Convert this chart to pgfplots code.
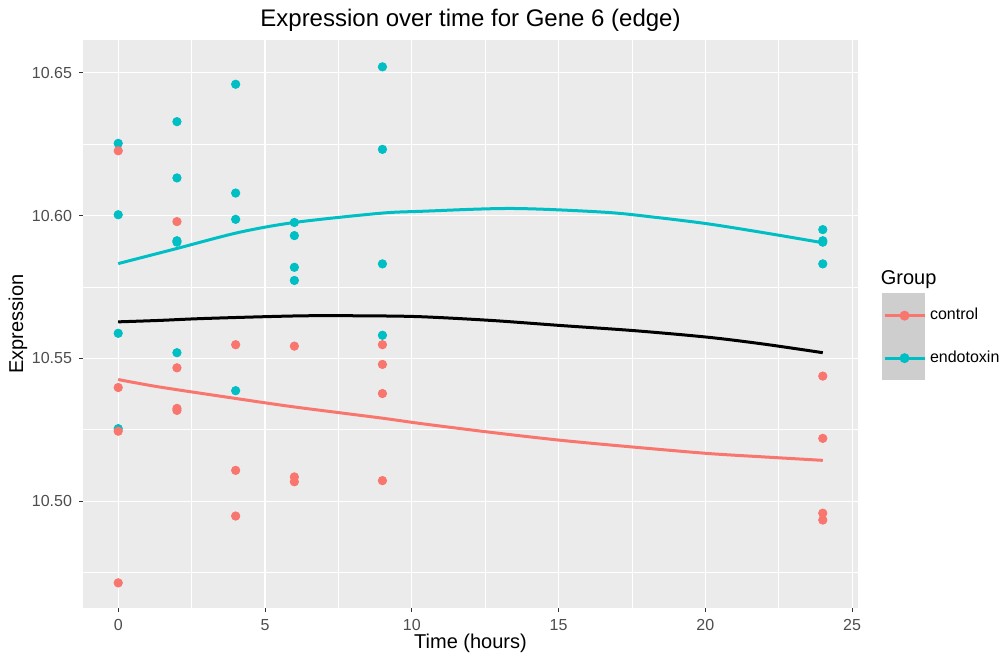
\documentclass[border=0pt]{standalone}
\usepackage{pgfplots}
\pgfplotsset{compat=1.18}
\usepackage{fontspec}
\setmainfont{Liberation Sans}
\definecolor{ggred}{HTML}{F8766D}
\definecolor{ggcyan}{HTML}{00BFC4}
\definecolor{ggbg}{HTML}{EBEBEB}
\definecolor{ggkey}{HTML}{CECECE}
\definecolor{ggtick}{HTML}{4D4D4D}
\definecolor{ggtickmark}{HTML}{333333}
\begin{document}
\begin{tikzpicture}
\begin{axis}[
  scale only axis,
  width=387.5pt, height=284pt,
  xmin=-1.2, xmax=25.2,
  ymin=10.4626, ymax=10.6615,
  axis background/.style={fill=ggbg},
  axis line style={draw=none},
  tick pos=left,
  tick align=outside,
  major tick length=2pt,
  minor tick length=0pt,
  tick style={color=ggtickmark, line width=0.5pt},
  xtick={0,5,10,15,20,25},
  ytick={10.50,10.55,10.60,10.65},
  minor xtick={2.5,7.5,12.5,17.5,22.5},
  minor ytick={10.475,10.525,10.575,10.625},
  grid=both,
  major grid style={white, line width=0.6pt},
  minor grid style={white, line width=0.3pt},
  /pgf/number format/assume math mode=true,
  yticklabel style={/pgf/number format/fixed, /pgf/number format/fixed zerofill, /pgf/number format/precision=2, font=\fontsize{8}{9}\selectfont, text=ggtick},
  xticklabel style={font=\fontsize{8}{9}\selectfont, text=ggtick},
  scaled y ticks=false,
  every axis title shift=0pt,
  title={Expression over time for Gene 6 (edge)},
  title style={at={(axis description cs:0.5,1.0352)}, anchor=center, font=\fontsize{12}{14}\selectfont},
  xlabel={Time (hours)},
  xlabel style={at={(axis description cs:0.5,-0.062)}, anchor=center, font=\fontsize{10}{12}\selectfont},
  ylabel={Expression},
  ylabel style={at={(axis description cs:-0.0839,0.5)}, anchor=center, font=\fontsize{10}{12}\selectfont},
  legend image code/.code={\draw[mark repeat=2,mark phase=2,#1] plot coordinates {(0pt,0pt) (10pt,0pt) (20pt,0pt)};},
  legend style={at={(axis description cs:1.0323,0.5521)}, anchor=north west, draw=none, fill=none, inner sep=0pt, outer sep=0pt, row sep=0pt, column sep=2pt, font=\fontsize{8}{9}\selectfont, nodes={inner sep=0pt, minimum height=21.25pt}},
  legend cell align=left,
  clip=false,
]
% legend key background
\fill[ggkey] (axis description cs:1.031,0.5546) rectangle (axis description cs:1.0865,0.4014);
\node[anchor=west, font=\fontsize{10}{12}\selectfont, inner sep=0pt] at (axis description cs:1.029,0.5775) {Group};

% endotoxin points
\addplot[only marks, mark=*, mark size=2.1pt, color=ggcyan, forget plot] coordinates {
(0,10.6253) (0,10.6003) (0,10.5588) (0,10.5254)
(2,10.6329) (2,10.6132) (2,10.5907) (2,10.5912) (2,10.5520)
(4,10.6460) (4,10.6079) (4,10.5987) (4,10.5387)
(6,10.5976) (6,10.5930) (6,10.5819) (6,10.5773)
(9,10.6521) (9,10.6232) (9,10.5831) (9,10.5581)
(24,10.5951) (24,10.5907) (24,10.5912) (24,10.5831)
};
% control points
\addplot[only marks, mark=*, mark size=2.1pt, color=ggred, forget plot] coordinates {
(0,10.6227) (0,10.5398) (0,10.5245) (0,10.4714)
(2,10.5979) (2,10.5467) (2,10.5325) (2,10.5318)
(4,10.5548) (4,10.5108) (4,10.4948)
(6,10.5543) (6,10.5085) (6,10.5068)
(9,10.5548) (9,10.5479) (9,10.5377) (9,10.5072)
(24,10.5438) (24,10.5220) (24,10.4958) (24,10.4934)
};
% fitted curves
\addplot[color=ggred, line width=1.5pt, smooth, forget plot] coordinates {
(0,10.5426) (1.4,10.5400) (4.05,10.5359) (6,10.5330) (8.9,10.5292) (10.3,10.5272) (12.7,10.5241) (15.1,10.5213) (17.6,10.5189) (20.1,10.5167) (22,10.5155) (24,10.5143)
};
\addplot[color=ggcyan, line width=1.5pt, smooth, forget plot] coordinates {
(0,10.5832) (2,10.5885) (4.1,10.5941) (6,10.5976) (8.9,10.6008) (10.3,10.6015) (13.4,10.6025) (16.55,10.6012) (18.3,10.5994) (20.1,10.5971) (22,10.5940) (24,10.5905)
};
\addplot[color=black, line width=1.5pt, smooth, forget plot] coordinates {
(0,10.5628) (1.4,10.5633) (3,10.5640) (6.2,10.5649) (8.5,10.5649) (10.3,10.5646) (12.7,10.5633) (15.1,10.5615) (17.6,10.5597) (20.1,10.5574) (22,10.5550) (24,10.5520)
};
\addlegendimage{color=ggred, line width=1.5pt, mark=*, mark size=1.7pt}
\addlegendentry{control}
\addlegendimage{color=ggcyan, line width=1.5pt, mark=*, mark size=1.7pt}
\addlegendentry{endotoxin}
\end{axis}
\pgfresetboundingbox
\path[use as bounding box] ([xshift=-41.5pt,yshift=-24.5pt]current axis.south west) rectangle ([xshift=71pt,yshift=20pt]current axis.north east);
\end{tikzpicture}
\end{document}
